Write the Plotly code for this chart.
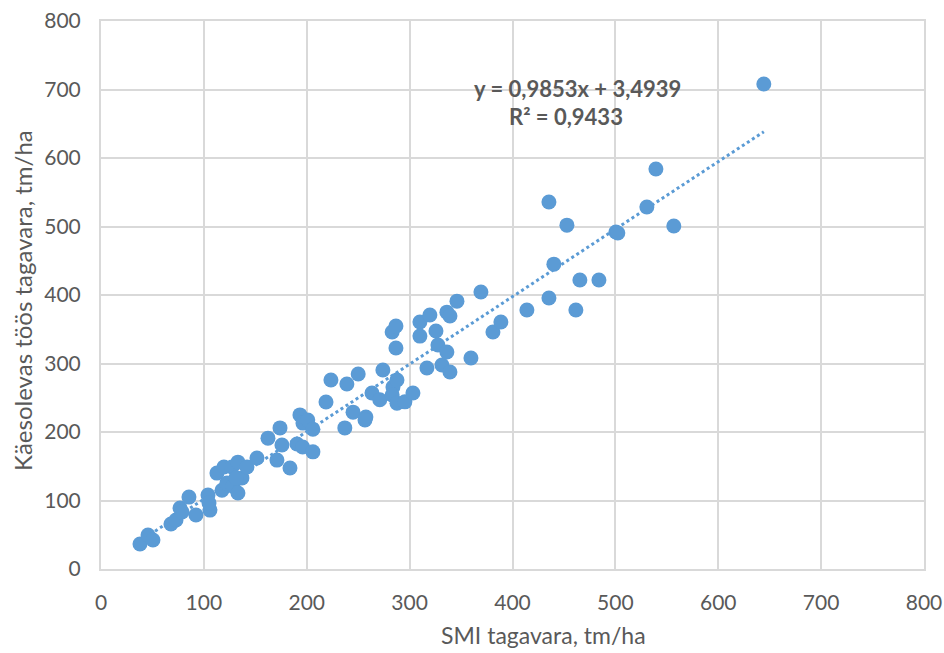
import plotly.graph_objects as go

smi = [37.9, 45.7, 50.5, 68.0, 72.9, 76.8, 78.7, 85.5, 92.3, 105.9, 104.0, 105.0,
       112.7, 119.5, 127.3, 133.1, 117.6, 122.4, 128.3, 133.1, 137.0, 131.2, 141.9,
       151.6, 162.3, 174.0, 175.9, 171.0, 183.7, 193.4, 196.3, 201.0, 206.0, 190.5,
       196.0, 206.0, 218.7, 223.5, 237.0, 239.0, 245.0, 250.0, 257.5, 256.6, 263.4,
       271.0, 274.0, 283.8, 287.7, 283.0, 287.7, 295.4, 303.2, 283.0, 286.7, 286.7,
       310.0, 310.0, 316.8, 319.7, 325.6, 327.5, 331.4, 336.2, 336.2, 339.2, 339.2,
       346.0, 359.6, 369.3, 381.0, 388.7, 414.0, 435.4, 435.4, 440.2, 452.9, 461.6,
       465.5, 484.0, 500.5, 502.4, 530.6, 539.4, 556.8, 644.3]
this_work = [36.5, 49.6, 42.3, 65.7, 71.5, 89.0, 83.2, 105.0, 78.8, 86.0, 108.0, 96.4,
             140.0, 149.0, 149.0, 156.0, 115.0, 125.5, 121.0, 111.0, 133.0, 133.0, 149.0,
             162.0, 191.0, 206.0, 181.0, 159.0, 147.4, 225.0, 213.0, 217.5, 204.0, 182.5,
             178.0, 171.0, 243.8, 276.0, 206.0, 270.0, 229.0, 284.7, 222.0, 217.5, 257.0,
             247.0, 290.5, 265.7, 276.0, 254.0, 242.0, 244.0, 257.0, 346.0, 354.7, 322.6,
             360.6, 340.0, 293.4, 370.8, 347.4, 327.0, 297.8, 316.8, 375.0, 369.3, 287.6,
             391.0, 308.0, 404.4, 346.0, 360.6, 378.0, 535.8, 395.6, 445.0, 502.0, 378.0,
             422.0, 422.0, 492.0, 490.5, 528.5, 584.0, 500.7, 708.0]

slope = 0.9853
intercept = 3.4939
r2 = 0.9433

ticks = [0, 100, 200, 300, 400, 500, 600, 700, 800]

color = "#5B9BD5"
grid = "#D9D9D9"
txt = "#595959"
font = "Lato"

x_fit = [min(smi), max(smi)]
y_fit = [slope * v + intercept for v in x_fit]

fig = go.Figure()
fig.add_trace(go.Scatter(x=x_fit, y=y_fit, mode="lines",
                         line=dict(color=color, width=3, dash="dot"),
                         hoverinfo="skip"))
fig.add_trace(go.Scatter(x=smi, y=this_work, mode="markers",
                         marker=dict(color=color, size=15, line=dict(width=0))))

fig.add_annotation(x=463.6, y=702, text="<b>y = 0,9853x + 3,4939</b>", showarrow=False,
                   font=dict(family=font, size=22, color=txt), xanchor="center", yanchor="middle")
fig.add_annotation(x=452, y=660, text="<b>R² = 0,9433</b>", showarrow=False,
                   font=dict(family=font, size=22, color=txt), xanchor="center", yanchor="middle")

# axis titles
fig.add_annotation(xref="paper", yref="paper", x=0.538, y=-0.121,
                   text="SMI tagavara, tm/ha", showarrow=False,
                   font=dict(family=font, size=23, color=txt), xanchor="center", yanchor="middle",
                   borderpad=0)
fig.add_annotation(xref="paper", yref="paper", x=-0.0948, y=0.491,
                   text="Käesolevas töös tagavara, tm/ha", showarrow=False, textangle=-90,
                   font=dict(family=font, size=24, color=txt), xanchor="center", yanchor="middle")

axis_common = dict(range=[0, 800], tickvals=ticks, ticktext=[str(t) for t in ticks],
                   showgrid=True, gridcolor=grid, gridwidth=2,
                   showline=True, linecolor=grid, linewidth=2, mirror=True,
                   zeroline=False, ticks="", automargin=False,
                   tickfont=dict(family=font, size=21, color=txt))

fig.update_layout(
    width=944, height=653,
    margin=dict(l=101, r=20, t=21, b=84),
    paper_bgcolor="white", plot_bgcolor="white",
    showlegend=False,
    xaxis=dict(**axis_common, ticklabelstandoff=14),
    yaxis=dict(**axis_common, ticklabelstandoff=14),
)

fig.write_html("out.html")
